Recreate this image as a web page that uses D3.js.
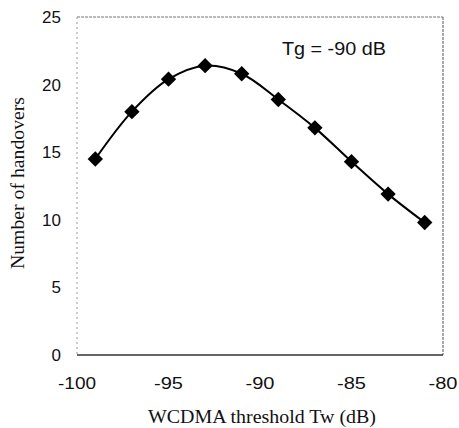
<!DOCTYPE html>
<html lang="en">
<head>
<meta charset="utf-8" />
<title>Handovers vs WCDMA threshold</title>
<script src="https://cdn.jsdelivr.net/npm/d3@7"></script>
<style>
	body { margin: 0; background: #fff; }
	.tick-label { font-family: Arial, "Liberation Sans", sans-serif; font-size: 17px; fill: #111; }
	.axis-title { font-family: "Times New Roman", "Liberation Serif", serif; font-size: 18px; fill: #111; }
	.note { font-family: Arial, "Liberation Sans", sans-serif; font-size: 18px; fill: #111; }
	.line { fill: none; stroke: #000; stroke-width: 2px; }
</style>
</head>
<body>
<div id="chart"></div>
<script>
// data
var thresholds = [-99, -97, -95, -93, -91, -89, -87, -85, -83, -81];
var handovers = [14.5, 18.0, 20.4, 21.4, 20.8, 18.9, 16.8, 14.3, 11.9, 9.8];
var xTicks = [-100, -95, -90, -85, -80];
var yTicks = [0, 5, 10, 15, 20, 25];
var note = "Tg = -90 dB";

var width = 459, height = 428;
var margin = { top: 17, right: 16, bottom: 73, left: 77 };
var w = width - margin.left - margin.right;
var h = height - margin.top - margin.bottom;

var svg = d3.select("#chart")
	.append("svg")
	.attr("width", width)
	.attr("height", height);

var g = svg.append("g")
	.attr("transform", "translate(" + margin.left + "," + margin.top + ")");

var x = d3.scaleLinear().domain([-100, -80]).range([0, w]);
var y = d3.scaleLinear().domain([0, 25]).range([h, 0]);

// frame
g.append("line").attr("x1", 0).attr("x2", w).attr("y1", 0).attr("y2", 0)
	.attr("stroke", "#777").attr("stroke-width", 1).attr("stroke-dasharray", "3,1");
g.append("line").attr("x1", 0).attr("x2", 0).attr("y1", 0).attr("y2", h)
	.attr("stroke", "#999").attr("stroke-width", 1).attr("stroke-dasharray", "2,3");
g.append("line").attr("x1", w).attr("x2", w).attr("y1", 0).attr("y2", h)
	.attr("stroke", "#555").attr("stroke-width", 1).attr("stroke-dasharray", "3,1");
g.append("line").attr("x1", 0).attr("x2", w).attr("y1", h).attr("y2", h)
	.attr("stroke", "#333").attr("stroke-width", 1.3);

// tick labels
g.selectAll(".xt").data(xTicks).enter().append("text")
	.attr("class", "tick-label")
	.attr("x", function (d) { return x(d); })
	.attr("y", h + 34)
	.attr("text-anchor", "middle")
	.attr("textLength", function (d) { return String(d).length === 4 ? 38 : 29; })
	.attr("lengthAdjust", "spacingAndGlyphs")
	.text(function (d) { return d; });

g.selectAll(".yt").data(yTicks).enter().append("text")
	.attr("class", "tick-label")
	.attr("x", -16)
	.attr("y", function (d) { return y(d); })
	.attr("dy", "0.35em")
	.attr("text-anchor", "end")
	.text(function (d) { return d; });

// axis titles
svg.append("text")
	.attr("class", "axis-title")
	.attr("x", 262)
	.attr("y", 423)
	.attr("text-anchor", "middle")
	.attr("textLength", 228)
	.attr("lengthAdjust", "spacingAndGlyphs")
	.text("WCDMA threshold Tw (dB)");

svg.append("text")
	.attr("class", "axis-title")
	.attr("transform", "translate(24,183) rotate(-90)")
	.attr("text-anchor", "middle")
	.attr("textLength", 172)
	.attr("lengthAdjust", "spacingAndGlyphs")
	.text("Number of handovers");

g.append("text")
	.attr("class", "note")
	.attr("x", x(-88.8))
	.attr("y", y(22.2))
	.attr("textLength", 104)
	.attr("lengthAdjust", "spacingAndGlyphs")
	.text(note);

// curve and markers
var pts = thresholds.map(function (t, i) { return [t, handovers[i]]; });

var line = d3.line()
	.curve(d3.curveCatmullRom.alpha(0.5))
	.x(function (d) { return x(d[0]); })
	.y(function (d) { return y(d[1]); });

g.append("path").datum(pts).attr("class", "line").attr("d", line);

g.selectAll(".pt").data(pts).enter().append("path")
	.attr("d", d3.symbol().type(d3.symbolDiamond2).size(150))
	.attr("transform", function (d) { return "translate(" + x(d[0]) + "," + y(d[1]) + ")"; })
	.attr("fill", "#000");
</script>
</body>
</html>
